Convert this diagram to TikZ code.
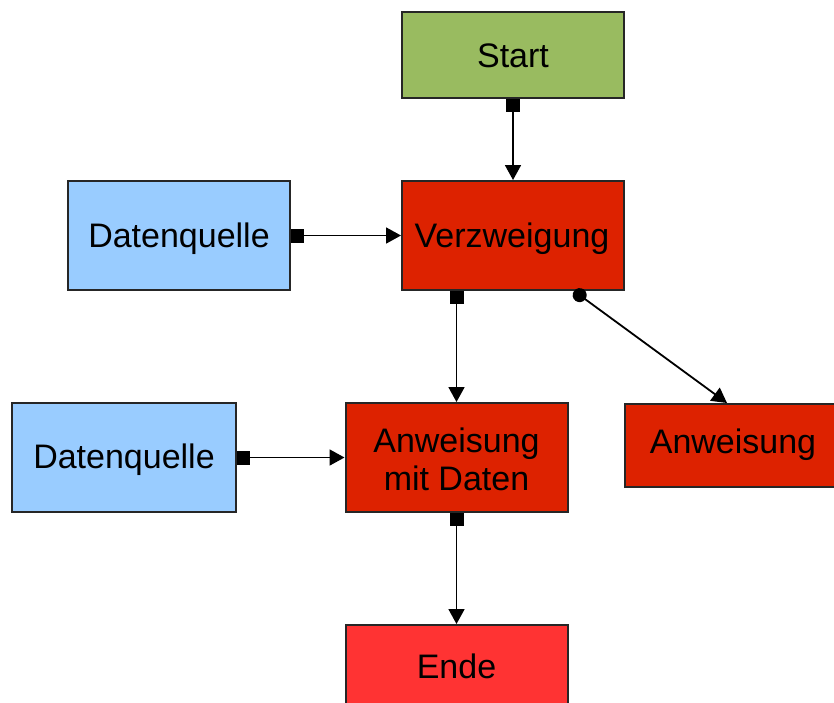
\documentclass[tikz,border=0pt]{standalone}
\usepackage{fontspec}
\setmainfont{Liberation Sans}
\usetikzlibrary{arrows.meta}
\definecolor{startgreen}{HTML}{99BB60}
\definecolor{stepred}{HTML}{DD2200}
\definecolor{endred}{HTML}{FF3333}
\definecolor{srcblue}{HTML}{99CCFF}
\tikzset{
  box/.style={draw=black!85, line width=2pt, minimum width=222pt, inner sep=0pt, font=\fontsize{34}{38}\selectfont, align=center},
  lbl/.style={font=\fontsize{34}{38}\selectfont, align=center, inner sep=0pt},
  conn/.style={line width=1.8pt, {Square[length=13pt,width=14pt]}-{Triangle[length=15pt,width=16pt]}},
  conndiag/.style={line width=1.8pt, {Circle[length=14pt]}-{Triangle[length=15pt,width=16pt]}}
}
\begin{document}
\begin{tikzpicture}[x=1pt,y=-1pt]
\useasboundingbox (0,0) rectangle (834,702);
\clip (0,0) rectangle (834,702);
\node[box, fill=startgreen, minimum height=86pt] (start) at (513,55) {};
\node[lbl] (starttext) at (513,56) {Start};
\node[box, fill=stepred, minimum height=109pt] (verz) at (513,235.5) {};
\node[lbl] (verztext) at (512,239) {Verzweigung};
\node[box, fill=srcblue, minimum height=109pt] (dq1) at (179,235.5) {};
\node[lbl] (dq1text) at (179,239) {Datenquelle};
\node[box, fill=stepred, minimum height=109pt] (amd) at (456.5,457.5) {};
\node[lbl] (amdtext) at (456.5,459) {Anweisung\\mit Daten};
\node[box, fill=srcblue, minimum height=109pt, minimum width=224pt] (dq2) at (124,457.5) {};
\node[lbl] (dq2text) at (124,460) {Datenquelle};
\node[box, fill=stepred, minimum height=83pt, anchor=north west] (anw) at (624,403) {};
\node[lbl] (anwtext) at (733,445) {Anweisung};
\node[box, fill=endred, minimum height=88pt, anchor=north] (ende) at (456.5,624) {};
\node[lbl] (endetext) at (456.5,666) {Ende};
\draw[conn] (start.south) -- (verz.north);
\draw[conn] (dq1.east) -- (verz.west);
\draw[conn] (verz.south -| amd.north) -- (amd.north);
\draw[conndiag] ([xshift=-51pt]verz.south east) -- ([xshift=103pt]anw.north west);
\draw[conn] (dq2.east) -- (amd.west);
\draw[conn] (amd.south) -- (ende.north);
\end{tikzpicture}
\end{document}
